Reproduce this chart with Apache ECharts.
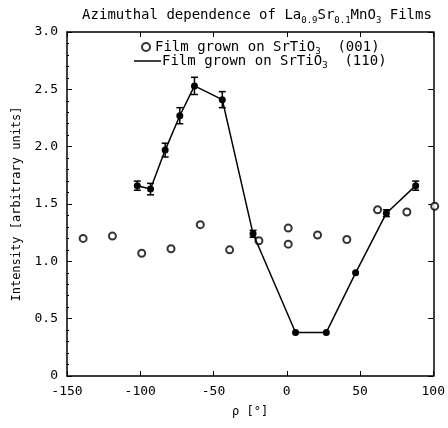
<!DOCTYPE html>
<html>
<head>
<meta charset="utf-8">
<script src="https://cdn.jsdelivr.net/npm/echarts@6/dist/echarts.min.js"></script>
<style>
	html, body { margin: 0; padding: 0; background: #fff; }
	#chart1 { width: 448px; height: 428px; }
</style>
</head>
<body>
<div id="chart1"></div>
<script>
// (001) 薄膜 - 空心圆
var rho001 = [-139, -119, -99, -79, -59, -39, -19, 1, 1, 21, 41, 62, 82, 101];
var int001 = [1.20, 1.22, 1.07, 1.11, 1.32, 1.10, 1.18, 1.29, 1.15, 1.23, 1.19, 1.45, 1.43, 1.48];

// (110) 薄膜 - 实线 + 误差棒
var rho110 = [-102, -93, -83, -73, -63, -44, -23, 6, 27, 47, 68, 88];
var int110 = [1.66, 1.63, 1.97, 2.27, 2.53, 2.41, 1.24, 0.38, 0.38, 0.90, 1.42, 1.66];
var err110 = [0.04, 0.05, 0.06, 0.07, 0.075, 0.07, 0.03, 0, 0, 0, 0.03, 0.04];

var name001 = "Film grown on SrTiO3 (001)";
var name110 = "Film grown on SrTiO3 (110)";

var font = "DejaVu Sans Mono";

var chart = echarts.init(document.getElementById("chart1"));

function pairs(xs, ys) {
	var out = [];
	for (let i = 0; i < xs.length; i++) out.push([xs[i], ys[i]]);
	return out;
}

var errData = [];
for (let i = 0; i < rho110.length; i++) {
	if (err110[i] > 0) errData.push([rho110[i], int110[i] - err110[i], int110[i] + err110[i]]);
}

var legendRich = {
	t: { fontFamily: font, fontSize: 14, fontWeight: "normal", color: "#000" },
	s: { fontFamily: font, fontSize: 9, fontWeight: "normal", color: "#000", padding: [9, 0, 0, 0] }
};
function legendFmt(name) {
	var tail = name.indexOf("(001)") > -1 ? "(001)" : "(110)";
	return "{t|Film grown on SrTiO}{s|3}{t|  " + tail + "}";
}

var axisLine = { onZero: false, lineStyle: { color: "#000", width: 1.5 } };
var tick = { inside: true, length: 5, lineStyle: { color: "#000" } };

var option = {
	animation: false,
	title: {
		text: "{t|Azimuthal dependence of La}{s|0.9}{t|Sr}{s|0.1}{t|MnO}{s|3}{t| Films}",
		left: 252,
		textAlign: "center",
		top: 1,
		textStyle: {
			fontWeight: "normal",
			rich: {
				t: { fontFamily: font, fontSize: 14, fontWeight: "normal", color: "#000" },
				s: { fontFamily: font, fontSize: 9, fontWeight: "normal", color: "#000", padding: [10, 0, 0, 0] }
			}
		}
	},
	legend: [{
		data: [{ name: name001, icon: "emptyCircle" }],
		left: 136,
		top: 35,
		itemWidth: 8,
		itemHeight: 8,
		itemGap: 4,
		formatter: legendFmt,
		textStyle: { rich: legendRich }
	}, {
		data: [{ name: name110, icon: "rect" }],
		left: 129,
		top: 49,
		itemWidth: 27,
		itemHeight: 1.5,
		itemGap: 0,
		formatter: legendFmt,
		textStyle: { rich: legendRich, padding: [0, 0, 0, -4] }
	}],
	grid: { left: 67, right: 13, top: 32, bottom: 52 },
	xAxis: [{
		type: "value",
		min: -150,
		max: 100,
		interval: 50,
		name: "ρ [°]",
		nameLocation: "middle",
		nameGap: 30,
		nameTextStyle: { fontFamily: font, fontSize: 12, color: "#000" },
		axisLine: axisLine,
		axisTick: tick,
		splitLine: { show: false },
		axisLabel: { fontFamily: font, fontSize: 13, color: "#000", margin: 9 }
	}, {
		type: "value",
		position: "top",
		min: -150,
		max: 100,
		interval: 50,
		axisLine: axisLine,
		axisTick: tick,
		splitLine: { show: false },
		axisLabel: { show: false }
	}],
	yAxis: [{
		type: "value",
		min: 0,
		max: 3,
		interval: 0.5,
		name: "Intensity [arbitrary units]",
		nameLocation: "middle",
		nameGap: 44,
		nameTextStyle: { fontFamily: font, fontSize: 12, color: "#000" },
		axisLine: axisLine,
		axisTick: tick,
		minorTick: { show: true, splitNumber: 5, length: 2, lineStyle: { color: "#000" } },
		splitLine: { show: false },
		axisLabel: {
			fontFamily: font, fontSize: 13, color: "#000", margin: 9,
			formatter: function (v) { return v === 0 ? "0" : v.toFixed(1); }
		}
	}, {
		type: "value",
		position: "right",
		min: 0,
		max: 3,
		interval: 0.5,
		axisLine: axisLine,
		axisTick: tick,
		splitLine: { show: false },
		axisLabel: { show: false }
	}],
	series: [{
		name: name001,
		type: "scatter",
		symbol: "emptyCircle",
		symbolSize: 7,
		clip: false,
		itemStyle: { color: "#000", borderColor: "#000", borderWidth: 1.4 },
		data: pairs(rho001, int001),
		z: 3
	}, {
		name: name110,
		type: "line",
		symbol: "circle",
		symbolSize: 7,
		lineStyle: { color: "#000", width: 1.5 },
		itemStyle: { color: "#000" },
		data: pairs(rho110, int110),
		z: 4
	}, {
		//误差棒
		type: "custom",
		renderItem: function (params, api) {
			var lo = api.coord([api.value(0), api.value(1)]);
			var hi = api.coord([api.value(0), api.value(2)]);
			var w = 3.5;
			var st = { stroke: "#000", lineWidth: 1.5 };
			return {
				type: "group",
				children: [
					{ type: "line", shape: { x1: lo[0], y1: lo[1], x2: hi[0], y2: hi[1] }, style: st },
					{ type: "line", shape: { x1: lo[0] - w, y1: lo[1], x2: lo[0] + w, y2: lo[1] }, style: st },
					{ type: "line", shape: { x1: hi[0] - w, y1: hi[1], x2: hi[0] + w, y2: hi[1] }, style: st }
				]
			};
		},
		encode: { x: 0, y: [1, 2] },
		data: errData,
		z: 5
	}]
};

window.onload = function () {
	chart.setOption(option);
};
</script>
</body>
</html>
